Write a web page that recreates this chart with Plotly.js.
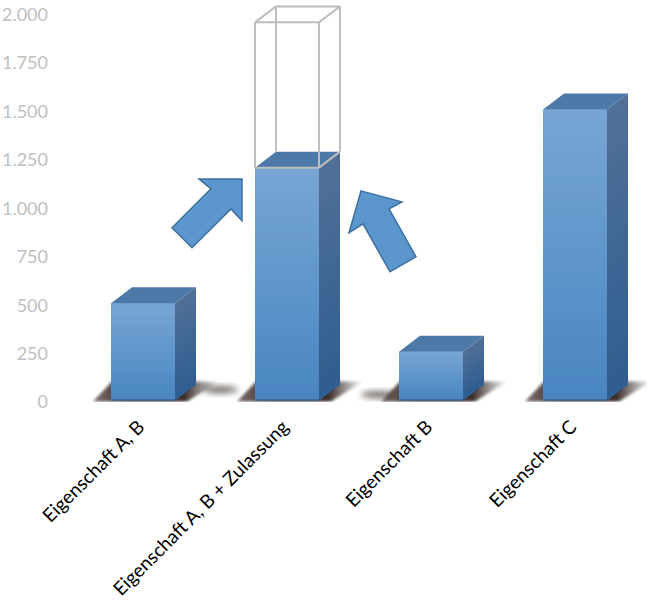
<!DOCTYPE html>
<html>
<head>
<meta charset="utf-8">
<script src="https://cdn.plot.ly/plotly-3.0.1.min.js"></script>
<style>html,body{margin:0;padding:0;background:#fff}</style>
</head>
<body>
<div id="chart" style="width:655px;height:600px"></div>
<script>
const categories = ["Eigenschaft A, B", "Eigenschaft A, B + Zulassung", "Eigenschaft B", "Eigenschaft C"];
const positions = [0, 1, 2, 3];
const values = [500, 1200, 250, 1500];
const ghostIndex = 1;
const ghostValue = 1950;
const yTickValues = [0, 250, 500, 750, 1000, 1250, 1500, 1750, 2000];
const yTickLabels = ["0", "250", "500", "750", "1.000", "1.250", "1.500", "1.750", "2.000"];

// plot frame
const W = 655, H = 600;
const plotL = 71, plotW = 576, plotT = 2.8, plotH = 399.64;
const yRange = [-10, 2050];
const xRange = [-0.5, 3.5];
const barWidth = 0.444;
const xPerPx = (xRange[1] - xRange[0]) / plotW;
const yPerPx = (yRange[1] - yRange[0]) / plotH;
const depthX = 21 * xPerPx, depthY = 16 * yPerPx;
const pxX = p => xRange[0] + (p - plotL) * xPerPx;
const pxY = p => yRange[1] - (p - plotT) * yPerPx;

const mix = (a, b, t) => 'rgb(' + a.map((c, i) => Math.round(c + (b[i] - c) * t)).join(',') + ')';
const frontTop = [118, 165, 212], frontBottom = [72, 133, 193];
const sideTop = [80, 112, 152], sideBottom = [46, 93, 143];
const topFace = '#4d79a8';
const N = 26;

const shapes = [];
const poly = (pts, fill, line) => shapes.push({
  type: 'path', xref: 'x', yref: 'y', layer: 'above',
  path: 'M' + pts.map(p => p[0] + ',' + p[1]).join(' L') + ' Z',
  fillcolor: fill || 'rgba(0,0,0,0)',
  line: line || {width: 0}
});

positions.forEach((c, i) => {
  const x0 = c - barWidth / 2, x1 = c + barWidth / 2, v = values[i];
  for (let k = 0; k < N; k++) {
    const t = k / N, y = v * (1 - t);
    poly([[x0, 0], [x1, 0], [x1, y], [x0, y]], mix(frontTop, frontBottom, t));
    poly([[x1, 0], [x1 + depthX, depthY], [x1 + depthX, y + depthY], [x1, y]], mix(sideTop, sideBottom, t));
  }
  poly([[x0, v], [x1, v], [x1 + depthX, v + depthY], [x0 + depthX, v + depthY]], topFace);
  shapes.push({type: 'line', xref: 'x', yref: 'y', x0: x0, x1: x1, y0: 0, y1: 0, line: {color: '#3c608c', width: 1.5}});
});

// empty outlined box above the second bar
const gx0 = positions[ghostIndex] - barWidth / 2, gx1 = positions[ghostIndex] + barWidth / 2;
const gv = values[ghostIndex];
const grey = {color: '#bdbdbd', width: 2};
const seg = (a, b, c, d) => shapes.push({type: 'line', xref: 'x', yref: 'y', x0: a, y0: b, x1: c, y1: d, line: grey});
seg(gx0 + depthX, gv + depthY, gx0 + depthX, ghostValue + depthY);
seg(gx1 + depthX, gv + depthY, gx1 + depthX, ghostValue + depthY);
seg(gx0 + depthX, ghostValue + depthY, gx1 + depthX, ghostValue + depthY);
seg(gx0, ghostValue, gx0 + depthX, ghostValue + depthY);
seg(gx1, ghostValue, gx1 + depthX, ghostValue + depthY);
seg(gx0, gv, gx0, ghostValue);
seg(gx1, gv, gx1, ghostValue);
seg(gx0, ghostValue, gx1, ghostValue);
seg(gx0, gv, gx1, gv);
seg(gx1, gv, gx1 + depthX, gv + depthY);

// block arrows (page pixels, decoration only)
const arrowFill = '#5b96cc', arrowLine = {color: '#3f6f9e', width: 1.5};
const arrowA = [[199,179],[242,179],[242,221],[231,209],[192,248],[172,228],[211,189]];
const arrowB = [[361,191],[402,202],[389,209],[416,257],[390,272],[363,224],[349,233]];
[arrowA, arrowB].forEach(a => poly(a.map(p => [pxX(p[0]), pxY(p[1])]), arrowFill, arrowLine));

// blurred floor shadows as SVG images below the bars
const svgUri = s => 'data:image/svg+xml,' + encodeURIComponent(s);
const shadowSvg = (w, h, d, op) => `<svg xmlns="http://www.w3.org/2000/svg" width="${w}" height="${h}" viewBox="0 0 ${w} ${h}"><defs><filter id="b" x="-20%" y="-20%" width="140%" height="140%"><feGaussianBlur stdDeviation="1.6"/></filter><linearGradient id="g" x1="0" x2="1" y1="0" y2="0"><stop offset="0" stop-color="#4a3a36" stop-opacity="0.75"/><stop offset="0.3" stop-color="#3a2a26" stop-opacity="1"/><stop offset="0.72" stop-color="#3a2a26" stop-opacity="1"/><stop offset="1" stop-color="#3a2a26" stop-opacity="0"/></linearGradient></defs><path d="${d}" fill="url(#g)" filter="url(#b)" opacity="${op}"/></svg>`;
const images = positions.map(c => {
  const left = c - barWidth / 2 - 24 * xPerPx, w = 150, h = 28;
  return {
    source: svgUri(shadowSvg(w, h, 'M6,24 L25,4 L132,4 L100,24 Z', 1)),
    xref: 'x', yref: 'y', x: left, y: pxY(378),
    sizex: w * xPerPx, sizey: h * yPerPx, sizing: 'stretch', xanchor: 'left', yanchor: 'top', layer: 'below'
  };
});
const blobSvg = `<svg xmlns="http://www.w3.org/2000/svg" width="60" height="24"><defs><filter id="b" x="-30%" y="-60%" width="160%" height="220%"><feGaussianBlur stdDeviation="3"/></filter></defs><ellipse cx="30" cy="12" rx="18" ry="3.4" fill="#4a3c38" opacity="0.8" filter="url(#b)"/></svg>`;
[[190, 378], [349, 383]].forEach(p => images.push({
  source: svgUri(blobSvg), xref: 'x', yref: 'y', x: pxX(p[0]), y: pxY(p[1]),
  sizex: 60 * xPerPx, sizey: 24 * yPerPx, sizing: 'stretch', xanchor: 'left', yanchor: 'top', layer: 'below'
}));

Plotly.newPlot('chart', [{
  type: 'bar', x: positions, y: values, width: barWidth,
  marker: {color: '#5b96cc', line: {width: 0}}, hoverinfo: 'skip', showlegend: false
}], {
  width: W, height: H,
  margin: {l: plotL, r: W - plotL - plotW, t: plotT, b: H - plotT - plotH, pad: 0},
  paper_bgcolor: '#fff', plot_bgcolor: 'rgba(0,0,0,0)',
  showlegend: false,
  xaxis: {
    range: xRange, tickmode: 'array', tickvals: positions, ticktext: categories, tickangle: -45,
    showgrid: false, zeroline: false, showline: false, ticks: '', ticklabelstandoff: 9,
    ticklabelshift: -4, ticklabeloverflow: 'allow',
    tickfont: {family: 'Lato, "Open Sans", sans-serif', size: 19, color: '#000'}
  },
  yaxis: {
    range: yRange, tickmode: 'array', tickvals: yTickValues, ticktext: yTickLabels,
    showgrid: false, zeroline: false, showline: false, ticks: '', ticklabelstandoff: 22,
    ticklabelshift: 2, ticklabeloverflow: 'allow',
    tickfont: {family: 'Lato, "Open Sans", sans-serif', size: 18, color: '#c0c0c0'}
  },
  shapes: shapes, images: images
}, {displayModeBar: false, staticPlot: true});
</script>
</body>
</html>
